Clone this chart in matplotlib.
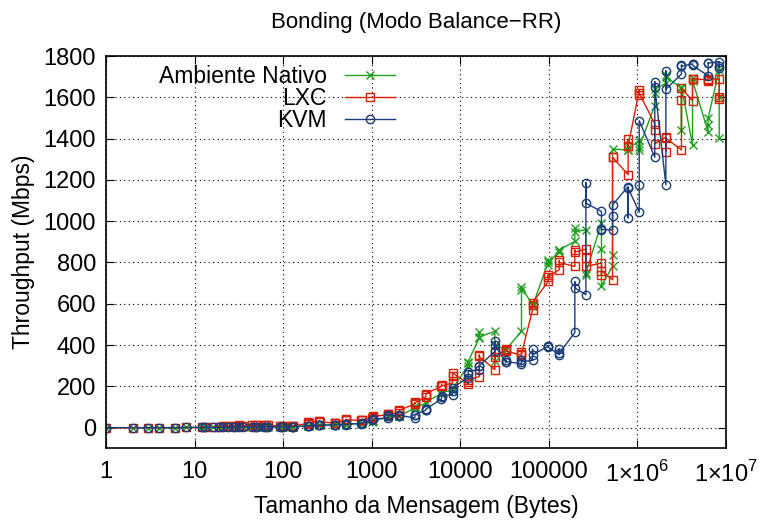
import matplotlib
matplotlib.use("Agg")
import matplotlib.pyplot as plt
from matplotlib.ticker import FixedLocator, NullLocator

plt.rcParams['font.family'] = ['Liberation Sans', 'DejaVu Sans']
plt.rcParams['mathtext.fontset'] = 'custom'
plt.rcParams['mathtext.rm'] = 'Liberation Sans'

# message sizes (bytes), NetPIPE style with +-3 perturbation
sizes = [1, 2, 3, 4, 6, 8, 12, 13, 16, 19, 21, 24, 27, 29, 32, 35, 45, 48, 51, 61, 64, 67,
         93, 96, 99, 125, 128, 131, 189, 192, 195, 253, 256, 259, 381, 384, 387,
         509, 512, 515, 765, 768, 771, 1021, 1024, 1027, 1533, 1536, 1539,
         2045, 2048, 2051, 3069, 3072, 3075, 4093, 4096, 4099, 6141, 6144, 6147,
         8189, 8192, 8195, 12285, 12288, 12291, 16381, 16384, 16387,
         24573, 24576, 24579, 32765, 32768, 32771, 49149, 49152, 49155,
         65533, 65536, 65539, 98301, 98304, 98307, 131069, 131072, 131075,
         196605, 196608, 196611, 262141, 262144, 262147, 393213, 393216, 393219,
         524285, 524288, 524291, 786429, 786432, 786435, 1048573, 1048576, 1048579,
         1572861, 1572864, 1572867, 2097149, 2097152, 2097155, 3145725, 3145728, 3145731,
         4194301, 4194304, 4194307, 6291453, 6291456, 6291459, 8388605, 8388608, 8388611]

nativo = [0, 0, 0, 0, 0, 1, 1, 1, 1, 2, 2, 2, 3, 3, 3, 3, 4, 4, 4, 5, 5, 5,
          3, 3, 4, 4, 5, 5, 8, 9, 10, 11, 12, 12, 13, 15, 16,
          15, 16, 18, 20, 22, 23, 28, 31, 33, 50, 55, 55,
          55, 56, 58, 95, 103, 100, 118, 121, 125, 165, 169, 172,
          180, 184, 190, 300, 313, 320, 434, 461, 440,
          466, 321, 400, 375, 381, 378, 466, 668, 680,
          595, 600, 590, 800, 813, 790, 861, 850, 861,
          902, 966, 950, 958, 740, 750, 991, 865, 687,
          781, 837, 1349, 1345, 1360, 1345, 1394, 1345, 1360,
          1560, 1620, 1640, 1668, 1708, 1700, 1644, 1442, 1650,
          1370, 1692, 1680, 1434, 1467, 1499, 1733, 1600, 1402]

lxc = [0, 0, 0, 0, 0, 1, 1, 2, 2, 3, 6, 7, 8, 10, 11, 10, 12, 13, 12, 14, 15, 15,
       6, 8, 7, 8, 10, 9, 20, 28, 25, 30, 34, 28, 22, 23, 25,
       35, 42, 38, 35, 39, 36, 48, 52, 55, 62, 68, 65,
       72, 80, 84, 115, 122, 119, 150, 160, 165, 200, 208, 203,
       216, 250, 265, 213, 220, 230, 247, 353, 345,
       281, 365, 340, 381, 378, 372, 350, 365, 358,
       571, 595, 605, 708, 740, 730, 765, 810, 800,
       781, 861, 850, 865, 821, 781, 797, 740, 760,
       716, 1310, 1310, 1225, 1397, 1365, 1633, 1612, 1620,
       1471, 1442, 1375, 1407, 1337, 1402, 1345, 1587, 1644,
       1584, 1688, 1690, 1684, 1680, 1690, 1688, 1591, 1600]

kvm = [0, 0, 0, 0, 0, 1, 1, 1, 1, 2, 2, 2, 3, 3, 3, 3, 4, 4, 4, 5, 5, 5,
       3, 3, 4, 4, 5, 5, 8, 9, 10, 11, 12, 12, 13, 15, 15,
       15, 16, 17, 20, 22, 24, 35, 40, 42, 47, 55, 63,
       55, 58, 60, 47, 60, 63, 85, 87, 90, 139, 147, 155,
       160, 176, 194, 242, 260, 272, 281, 297, 300,
       369, 418, 400, 316, 329, 320, 310, 326, 320,
       326, 381, 353, 394, 397, 390, 353, 382, 360,
       461, 708, 677, 644, 1187, 1087, 1047, 955, 960,
       958, 1023, 1079, 1168, 1015, 1160, 1044, 1176, 1487,
       1310, 1676, 1650, 1176, 1729, 1639, 1713, 1757, 1750,
       1762, 1760, 1755, 1704, 1768, 1765, 1773, 1741, 1750]

xticks = [1, 10, 100, 1000, 10000, 100000, 1e6, 1e7]
xlabels = ['1', '10', '100', '1000', '10000', '100000',
           r'1$\times$10$^{6}$', r'1$\times$10$^{7}$']
yticks = [0, 200, 400, 600, 800, 1000, 1200, 1400, 1600, 1800]

fig = plt.figure(figsize=(7.64, 5.21), dpi=100)
ax = fig.add_axes([0.1387, 0.1395, 0.8115, 0.753])

ax.plot(sizes, nativo, '-x', color='#20a020', lw=1, ms=6, mew=1, label='Ambiente Nativo')
ax.plot(sizes, lxc, '-s', color='#d81e05', lw=1, ms=6, mew=1, mfc='none', label='LXC')
ax.plot(sizes, kvm, '-o', color='#1a3c78', lw=1, ms=6, mew=1, mfc='none', label='KVM')

ax.set_xscale('log')
ax.set_xlim(1, 1e7)
ax.set_ylim(-100, 1800)
ax.xaxis.set_major_locator(FixedLocator(xticks))
ax.xaxis.set_minor_locator(NullLocator())
ax.set_xticks(xticks)
ax.set_xticklabels(xlabels)
ax.set_yticks(yticks)
ax.tick_params(direction='in', top=True, right=True, labelsize=17, length=6)
ax.tick_params(axis='x', pad=9)
ax.tick_params(axis='y', pad=7)
ax.grid(True, color='black', linestyle=(0, (1, 3)), lw=0.8)
for s in ax.spines.values():
    s.set_linewidth(1.2)

ax.set_xlabel('Tamanho da Mensagem (Bytes)', fontsize=16.5, labelpad=6)
ax.set_ylabel('Throughput (Mbps)', fontsize=16.5, labelpad=6)
ax.set_title('Bonding (Modo Balance\u2212RR)', fontsize=16, pad=20)

leg = ax.legend(loc='upper left', frameon=False, markerfirst=False, fontsize=16.5,
                handlelength=2.2, borderaxespad=0.0, labelspacing=-0.05,
                bbox_to_anchor=(0.07, 1.0))

fig.savefig('out.png', dpi=100)
